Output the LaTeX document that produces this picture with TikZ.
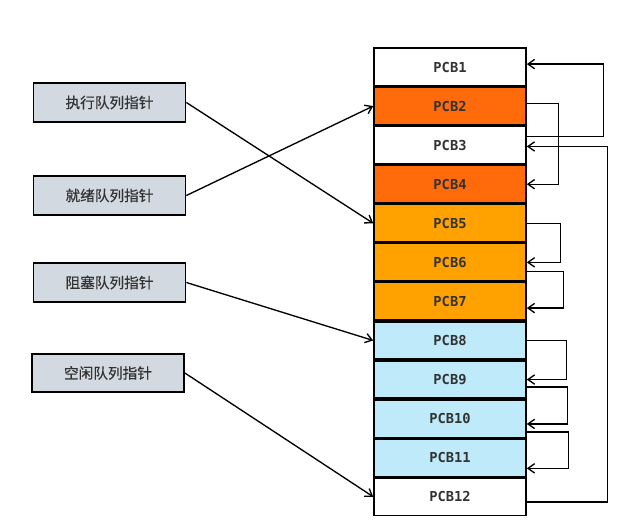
\documentclass[tikz,border=0pt]{standalone}
\usepackage{fontspec}
\setmonofont{DejaVu Sans Mono}
\newfontfamily\cjk[FakeBold=0.5]{Noto Sans CJK SC}
\usetikzlibrary{positioning,arrows.meta}

\definecolor{ptrgray}{RGB}{210,217,225}
\definecolor{runred}{RGB}{255,106,10}
\definecolor{readyorange}{RGB}{255,162,0}
\definecolor{freeblue}{RGB}{190,234,250}
\definecolor{txtgray}{RGB}{51,51,51}

\tikzset{every picture/.style={line width=0.75pt}}
\tikzset{
	pcb/.style={draw, line width=1.2pt, minimum width=114pt, minimum height=28.1pt, inner sep=0pt, text=txtgray, font=\ttfamily\bfseries\fontsize{10.3}{12}\selectfont},
	qptr/.style={draw, line width=1.3pt, fill=ptrgray, minimum width=114pt, minimum height=29pt, inner sep=0pt, text=txtgray, font=\cjk\fontsize{11}{13}\selectfont},
	link/.style={line width=1pt, -{Straight Barb[length=5pt,width=7pt]}}
}

\begin{document}
\begin{tikzpicture}[x=0.75pt,y=0.75pt,yscale=-1,xscale=1]
	\useasboundingbox (0,0) rectangle (640,522);
	
	%Shape: PCB table
	\node [pcb] (pcb1) at (450,67) {PCB1};
	\node [pcb, fill=runred, below=0pt of pcb1] (pcb2) {PCB2};
	\node [pcb, below=0pt of pcb2] (pcb3) {PCB3};
	\node [pcb, fill=runred, below=0pt of pcb3] (pcb4) {PCB4};
	\node [pcb, fill=readyorange, below=0pt of pcb4] (pcb5) {PCB5};
	\node [pcb, fill=readyorange, below=0pt of pcb5] (pcb6) {PCB6};
	\node [pcb, fill=readyorange, below=0pt of pcb6] (pcb7) {PCB7};
	\node [pcb, fill=freeblue, below=0pt of pcb7] (pcb8) {PCB8};
	\node [pcb, fill=freeblue, below=0pt of pcb8] (pcb9) {PCB9};
	\node [pcb, fill=freeblue, below=0pt of pcb9] (pcb10) {PCB10};
	\node [pcb, fill=freeblue, below=0pt of pcb10] (pcb11) {PCB11};
	\node [pcb, below=0pt of pcb11] (pcb12) {PCB12};
	
	% Text Node
	\node [qptr] (runptr) at (109.5,102.5) {执行队列指针};
	% Text Node
	\node [qptr] (readyptr) at (109.5,195.5) {就绪队列指针};
	% Text Node
	\node [qptr] (blockptr) at (109.5,282.5) {阻塞队列指针};
	% Text Node
	\node [qptr] (freeptr) at (108,373) {空闲队列指针};
	
	%Straight Lines
	\draw [link] (runptr.east) -- (pcb5.west);
	\draw [link] (readyptr.east) -- (pcb2.west);
	\draw [link] (blockptr.east) -- (pcb8.west);
	\draw [link] (freeptr.east) -- (pcb12.west);
	
	%Straight Lines (queue links), yshift counts downwards here
	\draw [link] ([yshift=-6.4pt]pcb3.east) -- ++(77,0) |- ([yshift=-2.2pt]pcb1.east);
	\draw [link] ([yshift=4pt]pcb12.east) -- ++(81,0) |- ([yshift=1pt]pcb3.east);
	\draw [link] ([yshift=-2pt]pcb2.east) -- ++(32,0) |- (pcb4.east);
	\draw [link] (pcb5.east) -- ++(34,0) |- (pcb6.east);
	\draw [link] ([yshift=7pt]pcb6.east) -- ++(37,0) |- ([yshift=5pt]pcb7.east);
	\draw [link] (pcb8.east) -- ++(40,0) |- (pcb9.east);
	\draw [link] ([yshift=5.5pt]pcb9.east) -- ++(41,0) |- ([yshift=4pt]pcb10.east);
	\draw [link] ([yshift=10pt]pcb10.east) -- ++(42,0) |- ([yshift=8pt]pcb11.east);
	
\end{tikzpicture}
\end{document}
